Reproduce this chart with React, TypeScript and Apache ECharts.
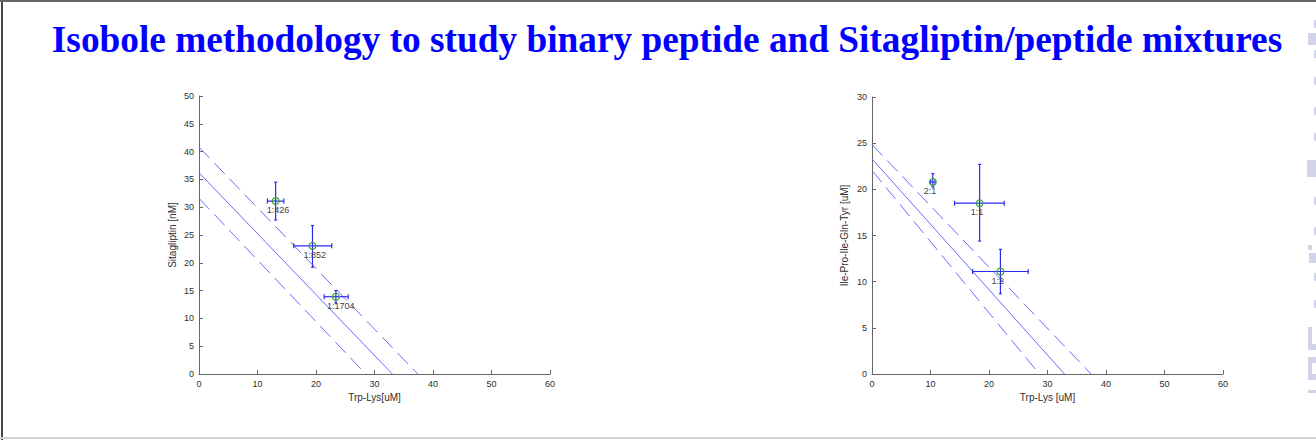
import React, { useEffect, useRef } from "react";
import * as echarts from "echarts";

// ---- Sitagliptin / Trp-Lys mixtures ----
const sitaRatios = ["1:426", "1:852", "1:1704"];
const sitaTrpLys = [13.1, 19.4, 23.4];
const sitaTrpLysLo = [11.7, 16.2, 21.4];
const sitaTrpLysHi = [14.5, 22.7, 25.5];
const sitaConc = [31.1, 23.05, 13.9];
const sitaConcLo = [27.7, 19.2, 12.75];
const sitaConcHi = [34.5, 26.7, 15.0];
const sitaIsobole = [[0, 36.2], [33.05, 0]];
const sitaIsoboleUpper = [[0, 40.8], [37.4, 0]];
const sitaIsoboleLower = [[0, 31.6], [28.5, 0]];

// ---- Ile-Pro-Ile-Gln-Tyr / Trp-Lys mixtures ----
const ipiRatios = ["2:1", "1:1", "1:2"];
const ipiTrpLys = [10.4, 18.4, 21.95];
const ipiTrpLysLo = [10.0, 14.1, 17.2];
const ipiTrpLysHi = [10.8, 22.6, 26.7];
const ipiConc = [20.8, 18.5, 11.1];
const ipiConcLo = [20.25, 14.4, 8.7];
const ipiConcHi = [21.7, 22.7, 13.5];
const ipiIsobole = [[0, 23.3], [32.9, 0]];
const ipiIsoboleUpper = [[0, 24.85], [37.45, 0]];
const ipiIsoboleLower = [[0, 22.05], [28.6, 0]];

const xTickMax = 60;
const xTickStep = 10;
const sitaYMax = 50;
const ipiYMax = 30;
const yTickStep = 5;

const TITLE = "Isobole methodology to study binary peptide and Sitagliptin/peptide mixtures";

const SANS = "'Liberation Sans', Arial, Helvetica, sans-serif";
const LINE_COLOR = "#6b6bff";
const BAR_COLOR = "#2b2bf0";
const MARK_COLOR = "#3a9f3a";
const AXIS_COLOR = "#666";
const TEXT_COLOR = "#2e2e2e";
const WATERMARK = "#d2d2e8";

function pointRows(x: number[], xlo: number[], xhi: number[], y: number[], ylo: number[], yhi: number[]) {
  return x.map((v, i) => [v, y[i], xlo[i], xhi[i], ylo[i], yhi[i]]);
}

function errorBarRenderer(labels: string[]) {
  return (params: any, api: any) => {
    const x = api.value(0);
    const y = api.value(1);
    const c = api.coord([x, y]);
    const xl = api.coord([api.value(2), y]);
    const xh = api.coord([api.value(3), y]);
    const yl = api.coord([x, api.value(4)]);
    const yh = api.coord([x, api.value(5)]);
    const stroke = { stroke: BAR_COLOR, lineWidth: 1.2 };
    const hc = 2.5;
    const vc = 1.5;
    const seg = (x1: number, y1: number, x2: number, y2: number) => ({
      type: "line",
      shape: { x1, y1, x2, y2 },
      style: stroke,
    });
    return {
      type: "group",
      children: [
        seg(xl[0], c[1], xh[0], c[1]),
        seg(xl[0], c[1] - hc, xl[0], c[1] + hc),
        seg(xh[0], c[1] - hc, xh[0], c[1] + hc),
        seg(c[0], yl[1], c[0], yh[1]),
        seg(c[0] - vc, yl[1], c[0] + vc, yl[1]),
        seg(c[0] - vc, yh[1], c[0] + vc, yh[1]),
        {
          type: "circle",
          shape: { cx: c[0], cy: c[1], r: 3.4 },
          style: { fill: "none", stroke: MARK_COLOR, lineWidth: 1.2 },
        },
        {
          type: "text",
          x: c[0] - 9,
          y: c[1] + 9,
          style: {
            text: labels[params.dataIndex],
            fontSize: 9,
            fontFamily: SANS,
            fill: "#444",
            align: "left",
            verticalAlign: "middle",
          },
        },
      ],
    };
  };
}

function xAxisCfg(gridIndex: number, name: string) {
  return {
    gridIndex,
    type: "value",
    min: 0,
    max: xTickMax,
    interval: xTickStep,
    name,
    nameLocation: "middle",
    nameGap: 17,
    nameTextStyle: { fontSize: 10, color: TEXT_COLOR, fontFamily: SANS },
    axisLine: { show: true, onZero: false, lineStyle: { color: AXIS_COLOR, width: 1 } },
    axisTick: { show: true, inside: true, length: 4, lineStyle: { color: AXIS_COLOR } },
    axisLabel: { fontSize: 9, color: TEXT_COLOR, fontFamily: SANS, margin: 5 },
    splitLine: { show: false },
  };
}

function yAxisCfg(gridIndex: number, name: string, max: number, gap: number) {
  return {
    gridIndex,
    type: "value",
    min: 0,
    max,
    interval: yTickStep,
    name,
    nameLocation: "middle",
    nameGap: gap,
    nameTextStyle: { fontSize: 10, color: TEXT_COLOR, fontFamily: SANS },
    axisLine: { show: true, onZero: false, lineStyle: { color: AXIS_COLOR, width: 1 } },
    axisTick: { show: true, inside: true, length: 4, lineStyle: { color: AXIS_COLOR } },
    axisLabel: { fontSize: 9, color: TEXT_COLOR, fontFamily: SANS, margin: 5 },
    splitLine: { show: false },
  };
}

function isoLine(idx: number, data: number[][], dashed: boolean) {
  return {
    type: "line",
    xAxisIndex: idx,
    yAxisIndex: idx,
    data,
    symbol: "none",
    silent: true,
    lineStyle: { color: LINE_COLOR, width: 1, type: dashed ? [15, 7] : "solid" },
    z: 2,
  };
}

// faint watermark fragments clipped by the right edge: [x, y, width, height]
const watermarkBlocks = [
  [1308, 33, 8, 12], [1307, 160, 9, 17], [1308, 245, 4, 5], [1309, 253, 7, 10],
  [1308, 327, 4, 23], [1308, 344, 8, 6], [1308, 357, 8, 6], [1308, 363, 4, 12],
  [1308, 374, 8, 6], [1308, 390, 8, 3],
];
const watermarkSlivers = [20, 50, 77, 107, 133, 197, 227, 273, 300];

export default function App() {
  const ref = useRef<HTMLDivElement>(null);

  useEffect(() => {
    if (!ref.current) return;
    const chart = echarts.init(ref.current, undefined, { renderer: "svg" });
    chart.setOption({
      animation: false,
      backgroundColor: "#ffffff",
      grid: [
        { left: 199, right: 766, top: 96, bottom: 66 },
        { left: 872, right: 93, top: 97, bottom: 66 },
      ],
      xAxis: [xAxisCfg(0, "Trp-Lys[uM]"), xAxisCfg(1, "Trp-Lys [uM]")],
      yAxis: [
        yAxisCfg(0, "Sitagliptin [nM]", sitaYMax, 22),
        yAxisCfg(1, "Ile-Pro-Ile-Gln-Tyr [uM]", ipiYMax, 23),
      ],
      series: [
        isoLine(0, sitaIsoboleUpper, true),
        isoLine(0, sitaIsobole, false),
        isoLine(0, sitaIsoboleLower, true),
        isoLine(1, ipiIsoboleUpper, true),
        isoLine(1, ipiIsobole, false),
        isoLine(1, ipiIsoboleLower, true),
        {
          type: "custom",
          xAxisIndex: 0,
          yAxisIndex: 0,
          data: pointRows(sitaTrpLys, sitaTrpLysLo, sitaTrpLysHi, sitaConc, sitaConcLo, sitaConcHi),
          encode: { x: [0, 2, 3], y: [1, 4, 5] },
          renderItem: errorBarRenderer(sitaRatios),
          clip: false,
          z: 5,
        },
        {
          type: "custom",
          xAxisIndex: 1,
          yAxisIndex: 1,
          data: pointRows(ipiTrpLys, ipiTrpLysLo, ipiTrpLysHi, ipiConc, ipiConcLo, ipiConcHi),
          encode: { x: [0, 2, 3], y: [1, 4, 5] },
          renderItem: errorBarRenderer(ipiRatios),
          clip: false,
          z: 5,
        },
      ],
      graphic: [
        // frame
        { type: "rect", shape: { x: 1, y: 0, width: 2, height: 440 }, style: { fill: "#444" } },
        { type: "rect", shape: { x: 0, y: 0, width: 1316, height: 2 }, style: { fill: "#666" } },
        { type: "rect", shape: { x: 0, y: 437, width: 1316, height: 2 }, style: { fill: "#d4d4d4" } },
        ...watermarkBlocks.map(([x, y, w, h]) => ({
          type: "rect",
          shape: { x, y, width: w, height: h },
          style: { fill: WATERMARK },
        })),
        ...watermarkSlivers.map((y) => ({
          type: "rect",
          shape: { x: 1314, y, width: 2, height: 8 },
          style: { fill: WATERMARK },
        })),
        {
          type: "text",
          x: 667,
          y: 39,
          style: {
            text: TITLE,
            fontSize: 37.3,
            fontWeight: "bold",
            fontFamily: "'Liberation Serif', 'Times New Roman', serif",
            fill: "#0000ff",
            align: "center",
            verticalAlign: "middle",
          },
        },
      ],
    });
    return () => chart.dispose();
  }, []);

  return (
    <div
      ref={ref}
      style={{ position: "absolute", left: 0, top: 0, width: 1316, height: 440 }}
    />
  );
}
